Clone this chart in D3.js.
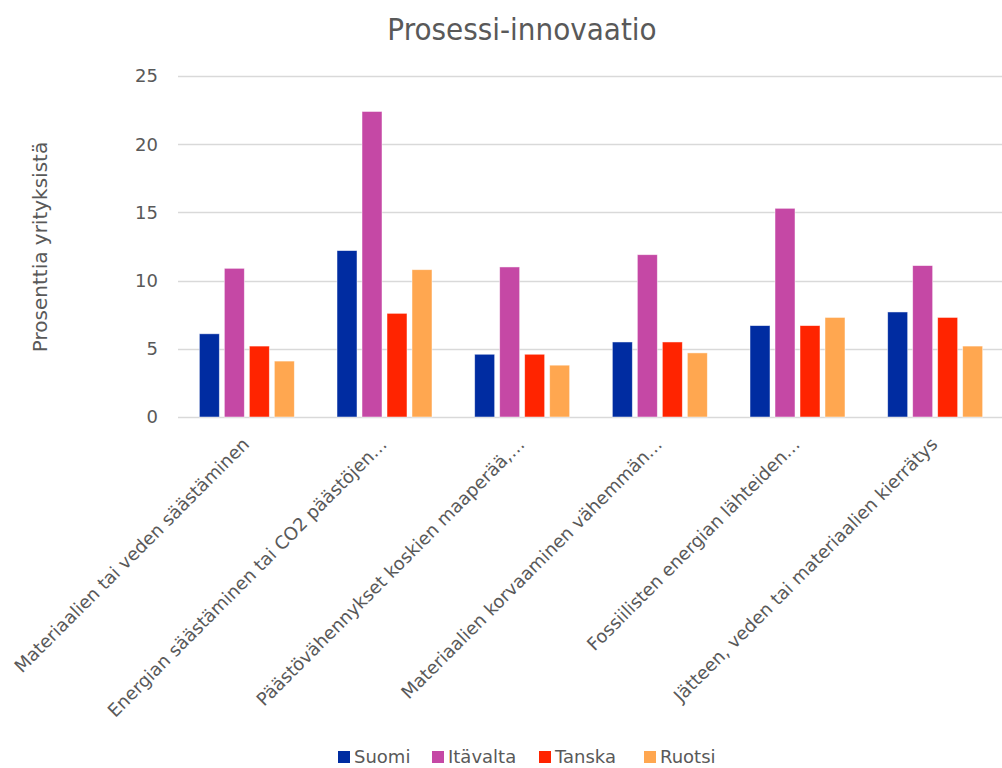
<!DOCTYPE html>
<html><head><meta charset="utf-8">
<script src="https://cdn.jsdelivr.net/npm/d3@7"></script>
<style>body{margin:0;background:#fff;}</style>
</head><body>
<svg id="c" width="1002" height="768"></svg>
<script>
const categories = [
  "Materiaalien tai veden säästäminen",
  "Energian säästäminen tai CO2 päästöjen…",
  "Päästövähennykset koskien maaperää,…",
  "Materiaalien korvaaminen vähemmän…",
  "Fossiilisten energian lähteiden…",
  "Jätteen, veden tai materiaalien kierrätys"
];
const seriesNames = ["Suomi", "Itävalta", "Tanska", "Ruotsi"];
const suomi    = [6.1, 12.2, 4.6, 5.5, 6.7, 7.7];
const itavalta = [10.9, 22.4, 11.0, 11.9, 15.3, 11.1];
const tanska   = [5.2, 7.6, 4.6, 5.5, 6.7, 7.3];
const ruotsi   = [4.1, 10.8, 3.8, 4.7, 7.3, 5.2];
const yTicks = [0, 5, 10, 15, 20, 25];
const colors = ["#002ca1", "#c548a5", "#ff2400", "#ffa750"];
const title = "Prosessi-innovaatio";
const yTitle = "Prosenttia yrityksistä";

(function draw() {
const values = [suomi, itavalta, tanska, ruotsi];
const svg = d3.select("#c");
const font = "DejaVu Sans, Verdana, sans-serif";
const textColor = "#595959";
const pLeft = 178, pRight = 1004, pTop = 76, pBottom = 417;

const x0 = d3.scaleBand().domain(categories).range([pLeft, pRight]).paddingInner(0.31).paddingOuter(0.155);
const x1 = d3.scaleBand().domain(seriesNames).range([0, x0.bandwidth()]).paddingInner(0.2);
const y = d3.scaleLinear().domain([0, 25]).range([pBottom, pTop]);

svg.append("g").selectAll("line").data(yTicks).join("line")
  .attr("x1", pLeft).attr("x2", 1002)
  .attr("y1", d => Math.round(y(d)) + 0.5).attr("y2", d => Math.round(y(d)) + 0.5)
  .attr("stroke", "#d9d9d9").attr("stroke-width", 1.3);

svg.append("g").selectAll("text").data(yTicks).join("text")
  .attr("x", 158).attr("y", d => y(d)).attr("dy", "0.35em")
  .attr("text-anchor", "end").attr("font-family", font).attr("font-size", 18)
  .attr("fill", textColor).text(d => d);

const groups = svg.append("g").selectAll("g").data(categories).join("g")
  .attr("transform", d => `translate(${x0(d)},0)`);
groups.selectAll("rect").data((d, i) => seriesNames.map((s, j) => ({s, v: values[j][i], j})))
  .join("rect")
  .attr("x", d => x1(d.s)).attr("width", x1.bandwidth())
  .attr("y", d => y(d.v)).attr("height", d => y(0) - y(d.v))
  .attr("fill", d => colors[d.j])
  .attr("stroke", "#ffffff").attr("stroke-opacity", 0.6).attr("stroke-width", 0.8);

svg.append("g").selectAll("text").data(categories).join("text")
  .attr("transform", d => `translate(${x0(d) + x0.bandwidth()/2 - 1},${pBottom + 24}) rotate(-45)`)
  .attr("text-anchor", "end").attr("font-family", font).attr("font-size", 18)
  .attr("fill", textColor).attr("dy", "0.35em").text(d => d);

svg.append("text").attr("x", 522).attr("y", 40).attr("text-anchor", "middle")
  .attr("font-family", "DejaVu Sans Condensed, DejaVu Sans, sans-serif").attr("font-size", 31)
  .attr("fill", textColor).text(title);

svg.append("text").attr("transform", "translate(40,247) rotate(-90)")
  .attr("text-anchor", "middle").attr("dy", "0.35em").attr("font-family", font).attr("font-size", 20)
  .attr("fill", textColor).text(yTitle);

const legendX = [338, 432, 539, 644];
const lg = svg.append("g").selectAll("g").data(seriesNames).join("g")
  .attr("transform", (d, i) => `translate(${legendX[i]},757)`);
lg.append("rect").attr("x", 0).attr("y", -6).attr("width", 12).attr("height", 12)
  .attr("fill", (d, i) => colors[i]);
lg.append("text").attr("x", 16).attr("dy", "0.35em").attr("font-family", font)
  .attr("font-size", 18).attr("fill", textColor).text(d => d);
})();
</script>
</body></html>
